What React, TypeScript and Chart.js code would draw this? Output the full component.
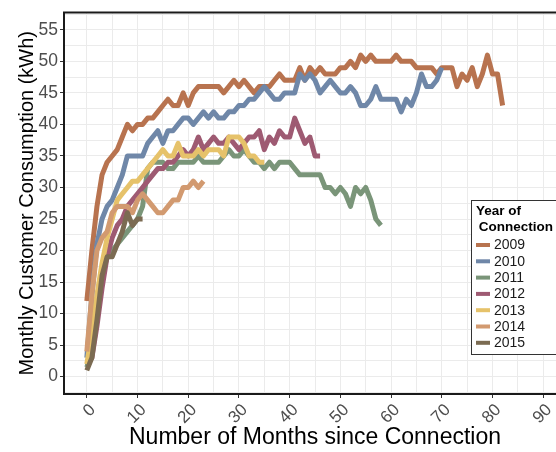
import React, { useEffect, useRef } from "react";
import { Chart, registerables } from "chart.js";

Chart.register(...registerables);

// ---- data (months since connection start at 0, one value per month) ----
const years = ["2009", "2010", "2011", "2012", "2013", "2014", "2015"];
const lineColors = ["#B8734F", "#6F87A8", "#7A9579", "#9E5A72", "#E6C26A", "#D29A70", "#7B6B52"];

const cons2009 = [
  12, 20, 27, 32, 34, 35, 36, 38, 40, 39,
  40, 40, 41, 41, 42, 43, 44, 43, 43, 45,
  43, 45, 46, 46, 46, 46, 46, 45, 46, 47,
  46, 47, 46, 45, 46, 46, 46, 47, 48, 47,
  47, 47, 49, 47, 49, 48, 49, 48, 48, 48,
  49, 49, 50, 49, 51, 50, 51, 50, 50, 50,
  50, 51, 50, 50, 50, 49, 49, 49, 49, 48,
  49, 49, 49, 46, 48, 47, 49, 46, 48, 51,
  48, 48, 43,
];
const cons2010 = [
  3, 13, 21, 25, 27, 28, 30, 32, 35, 35,
  35, 35, 37, 38, 39, 37, 39, 39, 40, 41,
  41, 40, 41, 42, 41, 42, 41, 41, 42, 42,
  43, 43, 44, 44, 45, 46, 45, 44, 44, 45,
  45, 45, 48, 47, 48, 47, 45, 46, 47, 46,
  45, 45, 46, 45, 43, 43, 44, 46, 44, 44,
  44, 44, 42, 44, 43, 45, 48, 46, 46, 47,
  49,
];
const cons2011 = [
  1.5, 4, 11, 17, 19, 20, 21, 22, 23, 24,
  25, 27, 33, 34, 34, 34, 33, 33, 34, 34,
  34, 34, 35, 34, 34, 34, 34, 35, 36, 35,
  35, 36, 35, 34, 34, 33, 34, 33, 34, 34,
  34, 33, 32, 32, 32, 32, 32, 30, 30, 29,
  30, 29, 27, 30, 29, 30, 28, 25, 24,
];
const cons2012 = [
  2, 3, 8, 14, 19, 22, 24, 25, 27, 28,
  29, 30, 31, 32, 33, 33, 34, 34, 35, 36,
  35, 36, 38, 36, 37, 38, 37, 37, 38, 37,
  36, 37, 38, 38, 39, 36, 38, 37, 39, 38,
  38, 41, 39, 37, 38, 35, 35,
];
const cons2013 = [
  2, 7, 13, 18, 22, 25, 28, 29, 30, 31,
  31, 32, 33, 34, 35, 36, 35, 35, 37, 35,
  35, 35, 36, 35, 36, 36, 36, 35, 38, 38,
  38, 37, 35, 35, 34, 34,
];
const cons2014 = [
  4, 13, 20, 22, 23, 26, 27, 27, 27, 26,
  28, 29, 28, 27, 26, 26, 27, 28, 28, 30,
  30, 31, 30, 31,
];
const cons2015 = [1, 3, 9, 16, 19, 19, 21, 23, 26, 24, 25, 25];

const seriesValues = [cons2009, cons2010, cons2011, cons2012, cons2013, cons2014, cons2015];

const legendTitle = ["Year of", " Connection"];
const xTitle = "Number of Months since Connection";
const yTitle = "Monthly Customer Consumption (kWh)";

const FONT = "'Liberation Sans', Arial, Helvetica, sans-serif";

const frameAndLegend = {
  id: "frameAndLegend",
  afterDatasetsDraw(chart: any) {
    const { ctx, chartArea: a } = chart;
    ctx.save();
    // panel frame
    ctx.strokeStyle = "#1a1a1a";
    ctx.lineWidth = 2;
    ctx.strokeRect(a.left, a.top, a.right - a.left, a.bottom - a.top);

    // legend box
    const bx = 471, by = 200, bw = 100, bh = 154;
    ctx.fillStyle = "#ffffff";
    ctx.fillRect(bx, by, bw, bh);
    ctx.strokeStyle = "#333333";
    ctx.lineWidth = 1;
    ctx.strokeRect(bx + 0.5, by + 0.5, bw, bh);

    ctx.fillStyle = "#000000";
    ctx.textBaseline = "middle";
    ctx.textAlign = "left";
    ctx.font = `bold 13.5px ${FONT}`;
    ctx.fillText(legendTitle[0], 476, 211);
    ctx.fillText(legendTitle[1], 475, 227);

    ctx.font = `14px ${FONT}`;
    years.forEach((yr, i) => {
      const cy = 245 + i * 16.3;
      ctx.fillStyle = lineColors[i];
      ctx.fillRect(476, cy - 2, 14, 4);
      ctx.fillStyle = "#1a1a1a";
      ctx.fillText(yr, 494, cy + 0.5);
    });
    ctx.restore();
  },
};

export default function App() {
  const canvasRef = useRef<HTMLCanvasElement | null>(null);

  useEffect(() => {
    const canvas = canvasRef.current;
    if (!canvas) return;
    const datasets = seriesValues.map((vals, i) => ({
      label: years[i],
      data: vals.map((v, m) => ({ x: m, y: v })),
      borderColor: lineColors[i],
      backgroundColor: lineColors[i],
      borderWidth: 5,
      borderJoinStyle: "round" as const,
      borderCapStyle: "butt" as const,
      pointRadius: 0,
      tension: 0,
      fill: false,
      order: seriesValues.length - 1 - i,
    }));

    const chart = new Chart(canvas, {
      type: "line",
      data: { datasets },
      plugins: [frameAndLegend],
      options: {
        animation: false,
        responsive: false,
        maintainAspectRatio: false,
        devicePixelRatio: 1,
        layout: { padding: { top: 7, right: 6, left: 0, bottom: 0 } },
        plugins: {
          legend: { display: false },
          tooltip: { enabled: false },
        },
        scales: {
          x: {
            type: "linear",
            min: -4.5,
            max: 94.5,
            afterFit: (s: any) => {
              s.height = 58;
            },
            ticks: {
              stepSize: 5,
              autoSkip: false,
              includeBounds: false,
              minRotation: 45,
              maxRotation: 45,
              padding: 2,
              labelOffset: 6,
              color: "#4D4D4D",
              font: { family: FONT, size: 17 },
              callback: (v: any) => (Number(v) % 10 === 0 ? String(v) : ""),
            },
            grid: {
              color: "#EBEBEB",
              lineWidth: 1,
              tickLength: 4,
              tickColor: (c: any) =>
                c.tick && c.tick.value % 10 === 0 ? "#333333" : "rgba(0,0,0,0)",
            },
            border: { display: false },
            title: {
              display: true,
              text: xTitle,
              color: "#000000",
              font: { family: FONT, size: 23 },
              padding: { top: 0, bottom: 1 },
            },
          },
          y: {
            type: "linear",
            min: -2.75,
            max: 57.75,
            afterFit: (s: any) => {
              s.width = 64;
            },
            ticks: {
              stepSize: 2.5,
              autoSkip: false,
              includeBounds: false,
              padding: 2,
              color: "#4D4D4D",
              font: { family: FONT, size: 17.5 },
              callback: (v: any) => (Number(v) % 5 === 0 ? String(v) : ""),
            },
            grid: {
              color: "#EBEBEB",
              lineWidth: 1,
              tickLength: 4,
              tickColor: (c: any) =>
                c.tick && c.tick.value % 5 === 0 ? "#333333" : "rgba(0,0,0,0)",
            },
            border: { display: false },
            title: {
              display: true,
              text: yTitle,
              color: "#000000",
              font: { family: FONT, size: 20 },
              padding: { top: 15, bottom: 0 },
            },
          },
        },
      },
    });
    return () => chart.destroy();
  }, []);

  return (
    <div
      style={{
        position: "absolute",
        left: 0,
        top: 0,
        width: 556,
        height: 452,
        overflow: "hidden",
        background: "#ffffff",
      }}
    >
      <canvas
        ref={canvasRef}
        width={572}
        height={452}
        style={{ width: 572, height: 452, display: "block" }}
      />
    </div>
  );
}
